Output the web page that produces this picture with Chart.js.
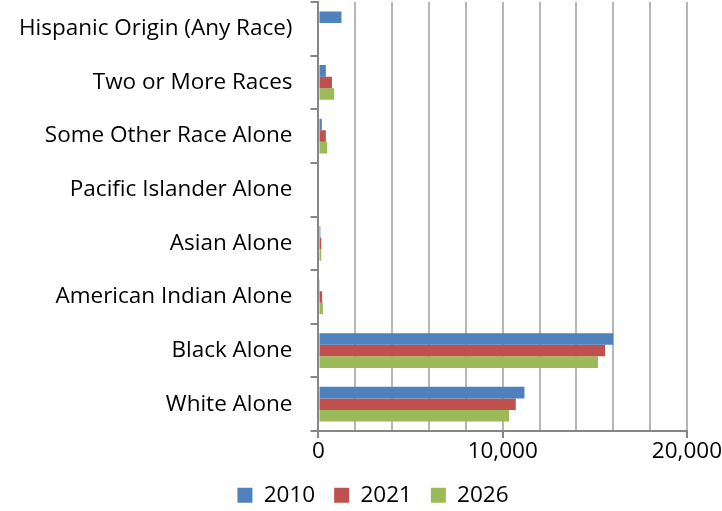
<!DOCTYPE html>
<html>
<head>
<meta charset="utf-8">
<script src="https://cdn.jsdelivr.net/npm/chart.js@4"></script>
<style>
  html, body { margin: 0; padding: 0; background: #fff; }
  #wrap { width: 722px; height: 511px; }
</style>
</head>
<body>
<div id="wrap"><canvas id="myChart" width="722" height="511"></canvas></div>
<script>
/*====== data =======*/
const categories = [
  'Hispanic Origin (Any Race)',
  'Two or More Races',
  'Some Other Race Alone',
  'Pacific Islander Alone',
  'Asian Alone',
  'American Indian Alone',
  'Black Alone',
  'White Alone',
];
const years = ['2010', '2021', '2026'];
const values2010 = [1250, 400, 180, 0, 100, 70, 16000, 11180];
const values2021 = [0, 730, 400, 0, 150, 200, 15560, 10710];
const values2026 = [0, 850, 470, 0, 150, 240, 15170, 10350];
const labeledTicks = [0, 10000, 20000];

/*====== chart =======*/
Chart.defaults.font = { family: "'Open Sans', sans-serif", size: 22.5 };
Chart.defaults.color = '#000';

// nudge legend a bit to the right like the original
const shiftLegend = {
  id: 'shiftLegend',
  afterLayout(chart) {
    chart.legend.left += 12;
    chart.legend.right += 12;
  }
};

const data = {
  labels: categories,
  datasets: [
    { label: years[0], data: values2010, backgroundColor: '#4F81BD' },
    { label: years[1], data: values2021, backgroundColor: '#C0504D' },
    { label: years[2], data: values2026, backgroundColor: '#9BBB59' },
  ]
};

const config = {
  type: 'bar',
  data: data,
  plugins: [shiftLegend],
  options: {
    indexAxis: 'y',
    responsive: false,
    animation: false,
    layout: { padding: { top: 2, right: 1, left: 1, bottom: 0 } },
    datasets: { bar: { categoryPercentage: 0.65, barPercentage: 1 } },
    scales: {
      x: {
        min: 0, max: 20000,
        ticks: {
          stepSize: 2000,
          autoSkip: false,
          maxRotation: 0,
          padding: 0,
          callback: function (v) {
            return labeledTicks.includes(v) ? v.toLocaleString('en-US') : '';
          }
        },
        grid: {
          color: '#b7b7b7',
          lineWidth: 2,
          tickLength: 7,
          tickColor: function (ctx) {
            return ctx.tick && labeledTicks.includes(ctx.tick.value) ? '#868686' : 'rgba(0,0,0,0)';
          }
        },
        border: { color: '#868686', width: 2 }
      },
      y: {
        ticks: { padding: 18 },
        grid: { drawOnChartArea: false, color: '#868686', lineWidth: 2, tickLength: 8 },
        border: { color: '#868686', width: 2 },
        afterFit: function (scale) {
          scale.paddingTop = 0;
          scale.paddingBottom = 0;
        }
      }
    },
    plugins: {
      legend: {
        position: 'bottom',
        maxHeight: 46,
        labels: { boxWidth: 15, boxHeight: 15, padding: 19 }
      },
      tooltip: { enabled: false }
    }
  }
};

const myChart = new Chart(document.getElementById('myChart'), config);
</script>
</body>
</html>
